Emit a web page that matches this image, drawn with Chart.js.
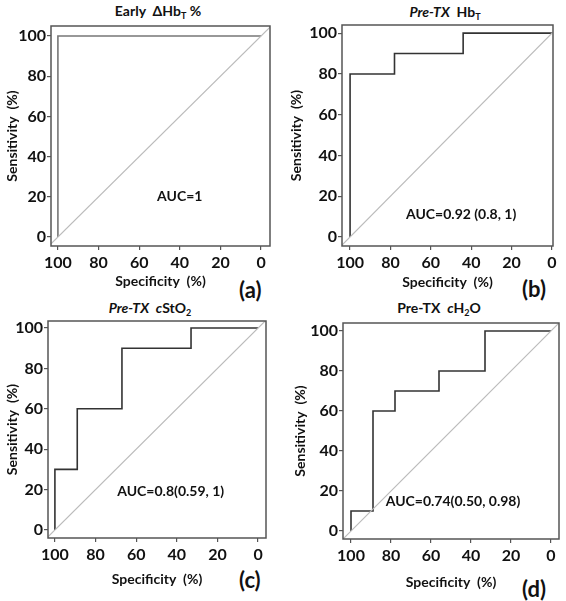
<!DOCTYPE html>
<html>
<head>
<meta charset="utf-8">
<script src="https://cdn.jsdelivr.net/npm/chart.js@4/dist/chart.umd.min.js"></script>
<style>
  body { margin: 0; background: #fff; }
  #wrap { position: relative; width: 566px; height: 601px; font-family: Lato, "Open Sans", sans-serif; color: #111; }
  canvas { position: absolute; }
  .ttl { position: absolute; font-weight: bold; font-size: 14px; transform: translateX(-50%); white-space: nowrap; }
  .ttl sub { font-size: 9px; vertical-align: -3px; }
  .lab { position: absolute; font-weight: bold; font-size: 22px; }
</style>
</head>
<body>
<div id="wrap">
  <div class="ttl" style="left:158px; top:2px;">Early&nbsp; &Delta;Hb<sub>T</sub> %</div>
  <div class="ttl" style="left:445px; top:3px;"><i>Pre-TX</i>&nbsp; Hb<sub>T</sub></div>
  <div class="ttl" style="left:150px; top:299px;"><i>Pre-TX</i>&nbsp; <i>c</i>StO<sub>2</sub></div>
  <div class="ttl" style="left:439px; top:299px;">Pre-TX&nbsp; <i>c</i>H<sub>2</sub>O</div>
  <div class="lab" style="left:239px; top:276px;">(a)</div>
  <div class="lab" style="left:522px; top:275px;">(b)</div>
  <div class="lab" style="left:239px; top:566px;">(c)</div>
  <div class="lab" style="left:522px; top:575px;">(d)</div>
  <canvas id="cA" width="283" height="300" style="left:0; top:0;"></canvas>
  <canvas id="cB" width="283" height="300" style="left:283px; top:0;"></canvas>
  <canvas id="cC" width="283" height="301" style="left:0; top:300px;"></canvas>
  <canvas id="cD" width="283" height="301" style="left:283px; top:300px;"></canvas>
</div>
<script>
// ROC steps: specificity (%) and sensitivity (%)
var specA = [100, 100, 0];
var sensA = [0, 100, 100];
var specB = [100, 100, 78, 78, 44, 44, 0];
var sensB = [0, 80, 80, 90, 90, 100, 100];
var specC = [100, 100, 89, 89, 67, 67, 33, 33, 0];
var sensC = [0, 30, 30, 60, 60, 90, 90, 100, 100];
var specD = [100, 100, 89, 89, 78, 78, 56, 56, 33, 33, 0];
var sensD = [0, 10, 10, 60, 60, 70, 70, 80, 80, 100, 100];
var tickValues = [0, 20, 40, 60, 80, 100];
var aucText = ["AUC=1", "AUC=0.92 (0.8, 1)", "AUC=0.8(0.59, 1)", "AUC=0.74(0.50, 0.98)"];

var framePlugin = {
    id: 'frame',
    afterDatasetsDraw: function(chart, args, opts) {
        var a = chart.chartArea, ctx = chart.ctx;
        ctx.save();
        ctx.strokeStyle = '#555';
        ctx.lineWidth = 1.5;
        ctx.strokeRect(a.left, a.top, a.right - a.left, a.bottom - a.top);
        // AUC label
        ctx.fillStyle = '#111';
        ctx.font = 'bold 14px Lato, sans-serif';
        ctx.textAlign = 'center';
        ctx.textBaseline = 'middle';
        var xs = chart.scales.x, ys = chart.scales.y;
        ctx.fillText(opts.text, xs.getPixelForValue(opts.x), ys.getPixelForValue(opts.y));
        ctx.restore();
    }
};

function toPoints(xs, ys) {
    var pts = [];
    for (var i = 0; i < xs.length; i++) pts.push({x: xs[i], y: ys[i]});
    return pts;
}

function makeChart(id, spec, sens, cfg) {
    var diag = [{x: cfg.xmax, y: 100 - cfg.xmax}, {x: cfg.xmin, y: 100 - cfg.xmin}];
    new Chart(document.getElementById(id), {
        type: 'scatter',
        data: {
            datasets: [
                {data: diag, showLine: true, borderColor: '#bbb', borderWidth: 1.2, pointRadius: 0},
                {data: toPoints(spec, sens), showLine: true, borderColor: cfg.color, borderWidth: 1.6, pointRadius: 0}
            ]
        },
        options: {
            responsive: false,
            animation: false,
            devicePixelRatio: 1,
            layout: {padding: {top: cfg.top, right: cfg.right, left: 0, bottom: 0}},
            plugins: {
                legend: {display: false},
                tooltip: {enabled: false},
                frame: {text: cfg.auc, x: cfg.aucX, y: cfg.aucY}
            },
            scales: {
                x: {
                    type: 'linear', reverse: true, min: cfg.xmin, max: cfg.xmax,
                    afterBuildTicks: function(s) { s.ticks = tickValues.map(function(v) { return {value: v}; }); },
                    afterFit: function(s) { s.height = cfg.xh; },
                    grid: {drawOnChartArea: false, tickLength: 4, color: '#555', lineWidth: 1.2},
                    border: {display: false},
                    ticks: {color: '#111', padding: 3, maxRotation: 0, font: {family: 'Lato', weight: 'bold', size: 16}},
                    title: {display: true, text: 'Specificity  (%)', color: '#111', padding: {top: 0, bottom: cfg.xtp},
                            font: {family: 'Lato', weight: 'bold', size: 14}}
                },
                y: {
                    type: 'linear', min: cfg.ymin, max: cfg.ymax,
                    afterBuildTicks: function(s) { s.ticks = tickValues.map(function(v) { return {value: v}; }); },
                    afterFit: function(s) { s.width = cfg.yw; },
                    grid: {drawOnChartArea: false, tickLength: 4, color: '#555', lineWidth: 1.2},
                    border: {display: false},
                    ticks: {color: '#111', padding: 1, font: {family: 'Lato', weight: 'bold', size: 16}},
                    title: {display: true, text: 'Sensitivity  (%)', color: '#111', padding: {top: cfg.ytp, bottom: 0},
                            font: {family: 'Lato', weight: 'bold', size: 14}}
                }
            }
        },
        plugins: [framePlugin]
    });
}

makeChart('cA', specA, sensA, {color: '#777', top: 26, right: 13, yw: 51, xh: 54, xtp: 10, ytp: 4,
    xmin: -4.4, xmax: 103.4, ymin: -4.5, ymax: 105, auc: aucText[0], aucX: 40, aucY: 20});
makeChart('cB', specB, sensB, {color: '#333', top: 25, right: 13, yw: 59, xh: 54, xtp: 9, ytp: 5,
    xmin: -0.5, xmax: 104, ymin: -4.4, ymax: 104, auc: aucText[1], aucX: 45, aucY: 11});
makeChart('cC', specC, sensC, {color: '#333', top: 21, right: 17, yw: 48, xh: 63, xtp: 13, ytp: 4,
    xmin: -3.9, xmax: 103.4, ymin: -4, ymax: 103.5, auc: aucText[2], aucX: 43, aucY: 19});
makeChart('cD', specD, sensD, {color: '#333', top: 23, right: 7, yw: 60, xh: 62, xtp: 10, ytp: 9,
    xmin: -4, xmax: 104, ymin: -4, ymax: 104, auc: aucText[3], aucX: 49, aucY: 15});
</script>
</body>
</html>
